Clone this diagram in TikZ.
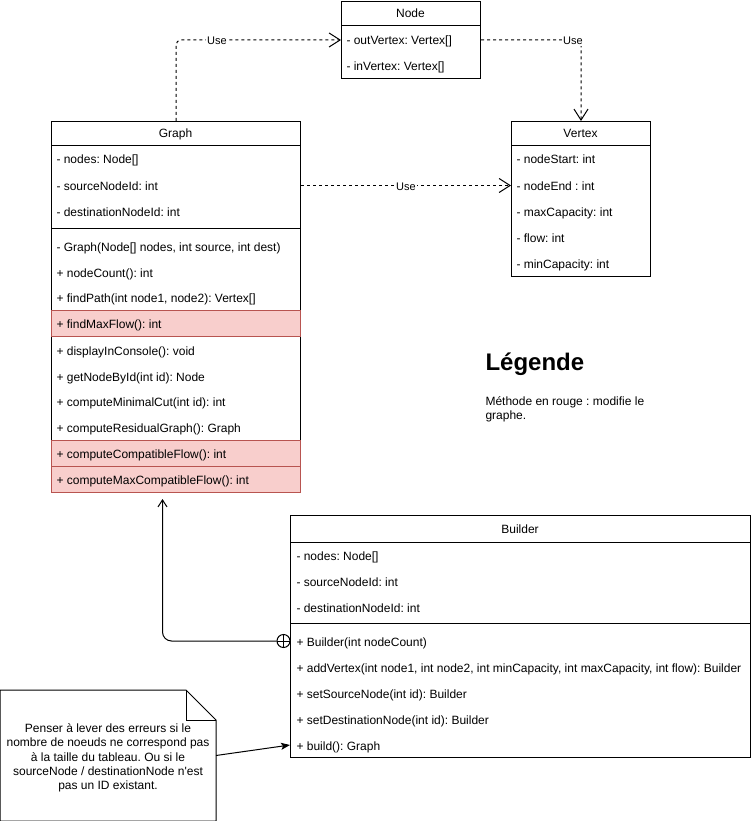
\documentclass[tikz,border=0pt]{standalone}
\usepackage{fontspec}
\setmainfont{Liberation Sans}[Ligatures=TeXOff]
\usetikzlibrary{arrows.meta,calc}
\definecolor{redfill}{HTML}{F8CECC}
\definecolor{redline}{HTML}{B85450}
\frenchspacing
\begin{document}
\frenchspacing
\begin{tikzpicture}[x=1pt,y=-1pt,line width=1pt,
  font=\fontsize{12}{14}\selectfont\frenchspacing,
  box/.style={draw, line width=1pt, anchor=north west, inner sep=0pt},
  redrow/.style={draw=redline, fill=redfill, line width=1pt, anchor=north west, inner sep=0pt},
  hdr/.style={anchor=base, inner sep=0pt, yshift=-4.5pt},
  row/.style={anchor=base west, inner sep=0pt, yshift=-5pt},
  sepline/.style={line width=1pt},
  uselink/.style={dash pattern=on 3pt off 3pt, rounded corners=5pt, -{Straight Barb[length=11pt,width=14pt,line width=1pt]}},
  lbl/.style={fill=white, inner sep=1pt, font=\fontsize{11}{13}\selectfont},
  innerlink/.style={rounded corners=9pt, -{Straight Barb[length=7pt,width=9pt,line width=1pt]}},
  notelink/.style={-{Stealth[length=9pt,width=7pt,inset=2pt]}},
  circplus/.style={draw, circle, minimum size=13pt, inner sep=0pt, fill=white}
]
\useasboundingbox (0,0) rectangle (751,821);

% ---------- Node ----------
\node[box, minimum width=139pt, minimum height=77pt] (nodebox) at (341,1) {};
\draw[sepline] (341,26) -- (480,26);
\node[hdr] (nodehdr) at (410.5,13.5) {Node};
\node[row] (nout) at (346,40) {- outVertex: Vertex[]};
\node[row] (nin) at (346,66) {- inVertex: Vertex[]};

% ---------- Vertex ----------
\node[box, minimum width=139pt, minimum height=155pt] (vertex) at (511,121) {};
\draw[sepline] (511,146) -- (650,146);
\node[hdr] (vhdr) at (580.5,133.5) {Vertex};
\node[row] (v1) at (516,159) {- nodeStart: int};
\node[row] (v2) at (516,185) {- nodeEnd : int};
\node[row] (v3) at (516,211) {- maxCapacity: int};
\node[row] (v4) at (516,237) {- flow: int};
\node[row] (v5) at (516,263) {- minCapacity: int};

% ---------- Graph ----------
\node[box, minimum width=249pt, minimum height=371pt] (graph) at (51,121) {};
\draw[sepline] (51,146) -- (300,146);
\draw[sepline] (51,228) -- (300,228);
\node[redrow, minimum width=249pt, minimum height=26pt] (r1) at (51,310) {};
\node[redrow, minimum width=249pt, minimum height=26pt] (r2) at (51,440) {};
\node[redrow, minimum width=249pt, minimum height=26pt] (r3) at (51,466) {};
\node[hdr] (ghdr) at (175.5,133.5) {Graph};
\node[row] (g1) at (56,159) {- nodes: Node[]};
\node[row] (g2) at (56,185) {- sourceNodeId: int};
\node[row] (g3) at (56,211) {- destinationNodeId: int};
\node[row] (m1) at (56,246) {- Graph(Node[] nodes, int source, int dest)};
\node[row] (m2) at (56,272) {+ nodeCount(): int};
\node[row] (m3) at (56,297) {+ findPath(int node1, node2): Vertex[]};
\node[row] (m4) at (56,323) {+ findMaxFlow(): int};
\node[row] (m5) at (56,350) {+ displayInConsole(): void};
\node[row] (m6) at (56,376) {+ getNodeById(int id): Node};
\node[row] (m7) at (56,401) {+ computeMinimalCut(int id): int};
\node[row] (m8) at (56,427) {+ computeResidualGraph(): Graph};
\node[row] (m9) at (56,453) {+ computeCompatibleFlow(): int};
\node[row] (m10) at (56,479) {+ computeMaxCompatibleFlow(): int};

% ---------- Builder ----------
\node[box, minimum width=460pt, minimum height=242pt] (builder) at (290,515) {};
\draw[sepline] (290,542) -- (750,542);
\draw[sepline] (290,623) -- (750,623);
\node[hdr] (bhdr) at (520,528.5) {Builder};
\node[row] (b1) at (296,555) {- nodes: Node[]};
\node[row] (b2) at (296,581) {- sourceNodeId: int};
\node[row] (b3) at (296,607) {- destinationNodeId: int};
\node[row] (b4) at (296,641) {+ Builder(int nodeCount)};
\node[row] (b5) at (296,667) {+ addVertex(int node1, int node2, int minCapacity, int maxCapacity, int flow): Builder};
\node[row] (b6) at (296,693) {+ setSourceNode(int id): Builder};
\node[row] (b7) at (296,719) {+ setDestinationNode(int id): Builder};
\node[row] (b8) at (296,745) {+ build(): Graph};

% ---------- Légende ----------
\node[anchor=west, inner sep=0pt, font=\fontsize{24}{28}\selectfont\bfseries] (leg) at (485,364) {Légende};
\node[anchor=north west, inner sep=0pt, align=left, font=\fontsize{12}{14.5}\selectfont\frenchspacing] (legtxt) at (485,396) {Méthode en rouge : modifie le\\graphe.};

% ---------- Note ----------
\node[minimum width=215pt, minimum height=130pt, inner sep=0pt, anchor=north west] (note) at (0,690) {};
\draw ($(note.north west)$) -- ($(note.north east)+(-30,0)$) -- ($(note.north east)+(0,30)$) -- (note.south east) -- (note.south west) -- cycle;
\draw ($(note.north east)+(-30,0)$) -- ($(note.north east)+(-30,30)$) -- ($(note.north east)+(0,30)$);
\node[align=center, inner sep=0pt, font=\fontsize{12}{14.3}\selectfont\frenchspacing] (notetxt) at (108,758) {Penser à lever des erreurs si le\\nombre de noeuds ne correspond pas\\à la taille du tableau. Ou si le\\sourceNode / destinationNode n'est\\pas un ID existant.};

% ---------- connectors ----------
\draw[uselink] (graph.north) |- (nodebox.west |- 0,40);
\node[lbl] (use1) at (217,41) {Use};
\draw[uselink] (nodebox.east |- 0,40) -| (vertex.north);
\node[lbl] (use2) at (573,41) {Use};
\draw[uselink] (graph.east |- 0,185.5) -- (vertex.west |- 0,185.5);
\node[lbl] (use3) at (406,187) {Use};

\coordinate (gtip) at ($(graph.south)+(-13.5,6)$);
\node[circplus] (cp) at (283.5,641) {};
\draw (cp.north) -- (cp.south) (cp.west) -- (cp.east);
\draw[innerlink] (cp.west) -| (gtip);

\draw[notelink] (note.east) -- (builder.west |- 0,745);
\end{tikzpicture}
\end{document}
